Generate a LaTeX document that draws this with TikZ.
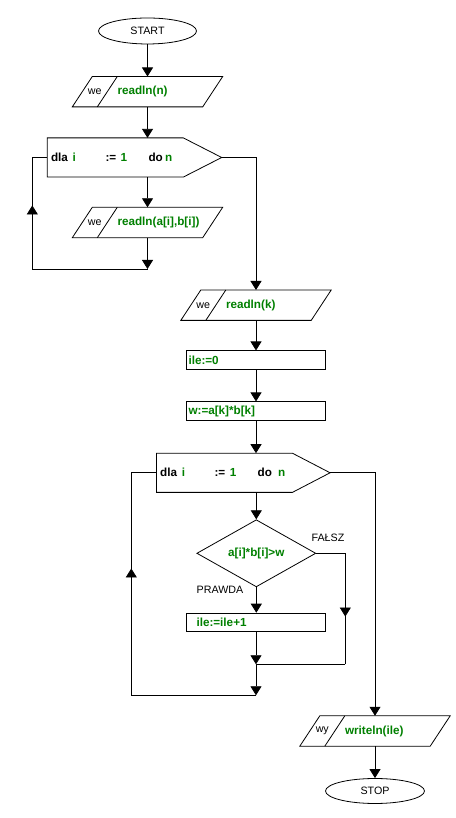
\documentclass[tikz,border=0pt]{standalone}
\usepackage{fontspec}
\setmainfont{Liberation Sans}
\usepackage{tikz}
\usetikzlibrary{positioning, shapes.geometric, arrows.meta, calc, decorations.markings}
\definecolor{CodeGreen}{RGB}{0, 128, 0}

\newcommand{\plainfont}{\fontsize{10.7}{12}\selectfont}
\newcommand{\boldfont}{\fontsize{11.7}{13}\selectfont\bfseries}

\tikzset{
  line/.style={line width=0.8pt},
  flow/.style={line, -{Triangle[length=9pt, width=11pt]}},
  midflow/.style={line, postaction={decorate},
    decoration={markings, mark=at position 0.57 with {\arrow{Triangle[length=9pt, width=11pt]}}}},
  terminal/.style={ellipse, draw, line, minimum width=98pt, minimum height=26pt, inner sep=0pt, font=\plainfont},
  iobody/.style={minimum width=130pt, minimum height=30pt, inner sep=0pt},
  forbody/.style={minimum width=135.6pt, minimum height=38.8pt, inner sep=0pt},
  process/.style={rectangle, draw, line, minimum height=18.3pt, inner ysep=0pt, align=left, font=\boldfont, text=CodeGreen},
  decision/.style={diamond, draw, line, minimum width=119pt, minimum height=59pt, inner sep=0pt, font=\boldfont, text=CodeGreen},
  code/.style={inner sep=0pt, font=\boldfont, text=CodeGreen},
  tag/.style={inner sep=0pt, font=\plainfont}
}

% parallelogram: name, x, y, direction, text
\newcommand{\iobox}[5]{%
  \node[iobody] (#1) at (#2,#3) {};
  \draw[line] ($(#1.south west)+(-10,0)$) -- ($(#1.north west)+(10,0)$) -- ($(#1.north east)+(10,0)$) -- ($(#1.south east)+(-10,0)$) -- cycle;
  \draw[line] ($(#1.south west)+(15,0)$) -- ($(#1.north west)+(35,0)$);
  \node[tag] (#1-dir) at ($(#1.west)+(12.5,0)$) {#4};
  \node[code, anchor=west] (#1-txt) at ($(#1.west)+(35,0)$) {#5};}

% loop header outline: name, length of the point
\newcommand{\forshape}[2]{%
  \draw[line] (#1.north west) -- (#1.north east) -- ($(#1.east)+(#2,0)$) coordinate (#1-tip) -- (#1.south east) -- (#1.south west) -- cycle;}

% loop header text: gap after "do"
\newcommand{\forhead}[1]{%
  \makebox[21.7pt][l]{dla}\makebox[32.8pt][l]{\textcolor{CodeGreen}{i}}\makebox[15.2pt][l]{:=}\makebox[27.8pt][l]{\textcolor{CodeGreen}{1}}\makebox[#1][l]{do}\textcolor{CodeGreen}{n}}

\begin{document}
\begin{tikzpicture}[x=1pt, y=1pt]
    \fill[white] (0,0) rectangle (455,818);
    \useasboundingbox (0,0) rectangle (455,818);

    % Terminals
    \node[terminal] (start) at (147.5,787) {START};
    \node[terminal, minimum width=99pt, minimum height=25pt] (stop) at (375,27) {STOP};

    % Input / output
    \iobox{in1}{147.5}{726.3}{we}{readln(n)}
    \iobox{in2}{147.5}{595.5}{we}{readln(a[i],b[i])}
    \iobox{in3}{256}{512.8}{we}{readln(k)}
    \iobox{out1}{375}{87}{wy}{writeln(ile)}

    % Loops
    \node[forbody] (loop1) at (115.3,660.5) {};
    \forshape{loop1}{38.4}
    \node[code, text=black, anchor=west] (loop1-txt) at ($(loop1.west)+(3.5,0)$) {\forhead{16.7pt}};

    \node[forbody] (loop2) at (224.4,345.2) {};
    \forshape{loop2}{37.7}
    \node[code, text=black, anchor=west] (loop2-txt) at ($(loop2.west)+(3.5,0)$) {\forhead{20.5pt}};

    % Processes
    \node[process, text width=135pt, inner xsep=2pt] (init) at (256,458) {ile:=0};
    \node[process, text width=135pt, inner xsep=2pt] (prod) at (256,407) {w:=a[k]*b[k]};
    \node[decision] (test) at (256.3,264.7) {a[i]*b[i]>w};
    \node[process, text width=119pt, inner xsep=10pt] (incr) at (256,195.7) {ile:=ile+1};

    % Branch labels
    \node[tag] (no) at (328,280) {FAŁSZ};
    \node[tag] (yes) at (220,228) {PRAWDA};

    % Junctions
    \coordinate (j1) at (147.5,549);
    \coordinate (back1) at (32.3,549);
    \coordinate (j2) at (256,153.7);
    \coordinate (fcol) at (345.3,153.7);
    \coordinate (j3) at (256,122.7);
    \coordinate (back2) at (131.3,122.7);

    % Connectors
    \draw[flow] (start.south) -- (start.south |- in1.north);
    \draw[flow] (in1.south) -- (in1.south |- loop1.north);
    \draw[flow] (in2.north |- loop1.south) -- (in2.north);
    \draw[flow] (in2.south) -- (j1);
    \draw[line] (j1) -- (back1);
    \draw[midflow] (back1) -- (back1 |- loop1.west);
    \draw[line] (back1 |- loop1.west) -- (loop1.west);
    \draw[flow] (loop1-tip) -| (in3.north);

    \draw[flow] (in3.south) -- (init.north);
    \draw[flow] (init.south) -- (prod.north);
    \draw[flow] (prod.south) -- (prod.south |- loop2.north);
    \draw[flow] (test.north |- loop2.south) -- (test.north);
    \draw[flow] (test.south) -- (test.south |- incr.north);
    \draw[line] (test.east) -- (test.east -| fcol);
    \draw[midflow] (test.east -| fcol) -- (fcol);
    \draw[line] (fcol) -- (j2);
    \draw[flow] (incr.south) -- (j2);
    \draw[flow] (j2) -- (j3);
    \draw[line] (j3) -- (back2);
    \draw[midflow] (back2) -- (back2 |- loop2.west);
    \draw[line] (back2 |- loop2.west) -- (loop2.west);
    \draw[flow] (loop2-tip) -| (out1.north);
    \draw[flow] (out1.south) -- (out1.south |- stop.north);
  \end{tikzpicture}
\end{document}
